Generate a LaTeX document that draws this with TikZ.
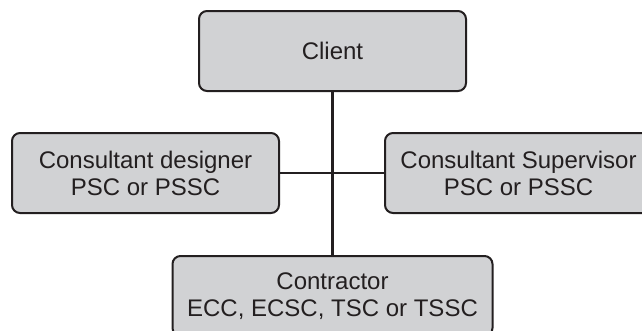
\documentclass[tikz,border=0pt]{standalone}
\usepackage{fontspec}
\setmainfont{Liberation Sans}
\definecolor{boxfill}{HTML}{D1D2D4}
\definecolor{ink}{HTML}{231F20}
\begin{document}
\begin{tikzpicture}[x=1pt,y=-1pt,
  orgbox/.style={draw=ink, line width=2pt, fill=boxfill, rounded corners=8pt,
    minimum width=267pt, minimum height=80pt, align=center, inner sep=0pt,
    text=ink, font=\fontsize{24}{27}\selectfont},
  link/.style={draw=ink, line width=2.5pt}]
\useasboundingbox (0,0) rectangle (642,330);
\node[orgbox] (client) at (332.5,51) {Client};
\node[orgbox] (designer) at (145.5,173) {Consultant designer\\PSC or PSSC};
\node[orgbox] (supervisor) at (518.5,173) {Consultant Supervisor\\PSC or PSSC};
\node[orgbox, minimum width=320pt] (contractor) at (332.5,296) {Contractor\\ECC, ECSC, TSC or TSSC};
\draw[link] (client.south) -- (contractor.north);
\draw[link] (designer.east) -- (supervisor.west);
\end{tikzpicture}
\end{document}
